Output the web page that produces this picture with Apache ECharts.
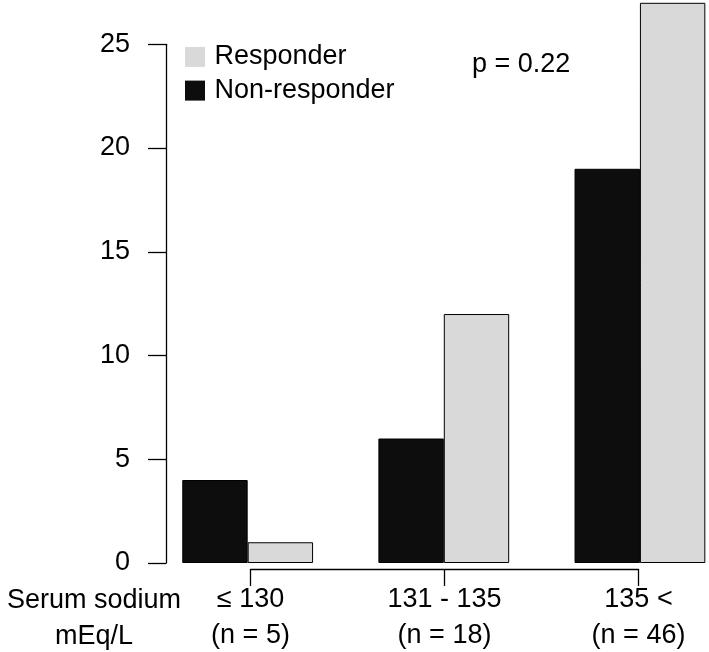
<!DOCTYPE html>
<html><head><meta charset="utf-8">
<script src="https://cdn.jsdelivr.net/npm/echarts@6/dist/echarts.min.js"></script>
<style>html,body{margin:0;padding:0;background:#fff}#c{width:709px;height:652px}</style>
</head><body><div id="c"></div>
<script>
const categories = ['≤ 130', '131 - 135', '135 <'];
const groupSizes = ['(n = 5)', '(n = 18)', '(n = 46)'];
const nonResponder = [4, 6, 19];
const responder = [1, 12, 27];
const yTicks = [0, 5, 10, 15, 20, 25];
const pText = 'p = 0.22';
const xTitle = 'Serum sodium\nmEq/L';

const FONT = '"Liberation Sans", Arial, Helvetica, sans-serif';
const FS = 27;
const chart = echarts.init(document.getElementById('c'), null, {renderer: 'canvas'});
const axisLabels = categories.map((c, i) => c + '\n' + groupSizes[i]);

chart.setOption({
  animation: false,
  backgroundColor: '#fff',
  textStyle: {fontFamily: FONT, color: '#000'},
  grid: [
    {left: 149.6, width: 588.4, top: 44.3, bottom: 89, outerBoundsMode: 'none', containLabel: false},
    {left: 250.5, width: 388, top: 44.3, bottom: 89, outerBoundsMode: 'none', containLabel: false}
  ],
  legend: {
    orient: 'vertical', left: 185, top: 43.4, padding: 0, itemWidth: 20, itemHeight: 20, itemGap: 6.7,
    icon: 'rect',
    data: [
      {name: 'Responder', itemStyle: {borderWidth: 0}},
      {name: 'Non-responder', itemStyle: {borderWidth: 0}}
    ],
    textStyle: {fontFamily: FONT, fontSize: FS, color: '#000', padding: [0, 0, 0, 4.5]}
  },
  xAxis: [
    {type: 'category', gridIndex: 0, data: categories, show: false},
    {type: 'category', gridIndex: 1, data: axisLabels, boundaryGap: false, offset: 6,
     axisLine: {show: true, onZero: false, lineStyle: {color: '#000', width: 1.3}},
     axisTick: {show: true, length: 17, lineStyle: {color: '#000', width: 1.3}},
     axisLabel: {interval: 0, margin: 13, fontSize: FS, lineHeight: 36, color: '#000', fontFamily: FONT},
     splitLine: {show: false}}
  ],
  yAxis: [
    {type: 'value', gridIndex: 0, min: yTicks[0], max: yTicks[yTicks.length - 1],
     interval: yTicks[1] - yTicks[0], offset: -16.4,
     axisLine: {show: true, onZero: false, lineStyle: {color: '#000', width: 1.3}},
     axisTick: {show: true, length: 18, lineStyle: {color: '#000', width: 1.3}},
     axisLabel: {margin: 36, fontSize: FS, color: '#000', fontFamily: FONT},
     splitLine: {show: false}},
    {type: 'value', gridIndex: 1, min: 0, max: 25, show: false}
  ],
  series: [
    {name: 'Non-responder', type: 'bar', xAxisIndex: 0, yAxisIndex: 0, data: nonResponder,
     barWidth: 65.4, barGap: '0%', clip: false,
     itemStyle: {color: '#0d0d0d', borderColor: '#000', borderWidth: 1}},
    {name: 'Responder', type: 'bar', xAxisIndex: 0, yAxisIndex: 0, data: responder,
     barWidth: 65.4, barGap: '0%', clip: false,
     itemStyle: {color: '#d9d9d9', borderColor: '#000', borderWidth: 1}}
  ],
  graphic: [
    {type: 'text', left: 472, top: 51, style: {text: pText, font: FS + 'px ' + FONT, fill: '#000'}},
    {type: 'text', x: 94, y: 583, style: {text: xTitle, font: FS + 'px ' + FONT, fill: '#000',
      textAlign: 'center', textVerticalAlign: 'top', lineHeight: 36}}
  ]
});
</script></body></html>
